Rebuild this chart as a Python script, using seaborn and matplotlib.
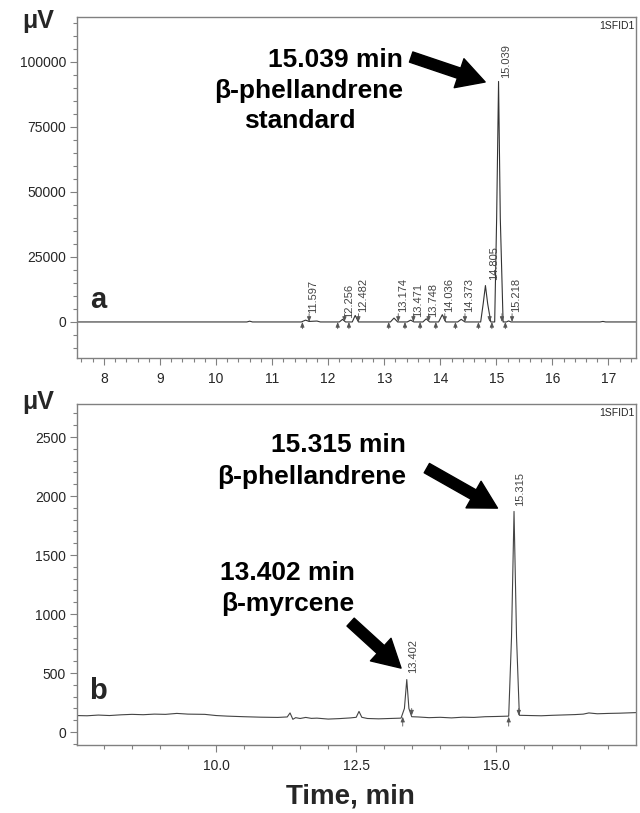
import matplotlib
matplotlib.use("Agg")
import matplotlib.pyplot as plt
from matplotlib.ticker import MultipleLocator
import seaborn as sns
import pandas as pd

# panel a: trace of the beta-phellandrene standard (time min, signal uV)
trace_a_t = [7.5, 10.55, 10.6, 10.65, 11.52, 11.597, 11.66, 11.75, 11.8, 11.86,
             12.2, 12.256, 12.31, 12.43, 12.482, 12.54, 13.11, 13.174, 13.24,
             13.41, 13.471, 13.53, 13.69, 13.748, 13.81, 13.97, 14.036, 14.1,
             14.31, 14.373, 14.44, 14.72, 14.765, 14.805, 14.845, 14.9,
             14.97, 15.005, 15.039, 15.07, 15.12, 15.18, 15.218, 15.26,
             16.85, 16.9, 16.95, 17.5]
trace_a_y = [0, 0, 300, 0, 0, 700, 200, 300, 350, 0,
             0, 1000, 0, 0, 2500, 0, 0, 1500, 0,
             0, 700, 0, 0, 1200, 0, 0, 2800, 0,
             0, 1000, 0, 0, 7000, 14000, 7000, 0,
             0, 40000, 92500, 40000, 0, 0, 400, 0,
             0, 200, 0, 0]

# panel a: peak labels (label x, label bottom) and integration starts
labels_a = ["11.597", "12.256", "12.482", "13.174", "13.471", "13.748",
            "14.036", "14.373", "14.805", "15.039", "15.218"]
label_a_x = [11.74, 12.37, 12.62, 13.33, 13.60, 13.87, 14.16, 14.52, 14.96, 15.18, 15.36]
label_a_y = [3300, 1600, 4000, 4000, 1800, 1800, 4000, 4000, 16000, 94000, 4000]
starts_a = [11.54, 12.17, 12.37, 13.08, 13.37, 13.64, 13.92, 14.27, 14.68, 14.92, 15.16]

# panel b: sample trace
trace_b_t = [7.5, 7.7, 7.9, 8.1, 8.3, 8.5, 8.7, 8.9, 9.1, 9.3, 9.5, 9.8, 10.0, 10.2,
             10.5, 10.8, 11.1, 11.27, 11.32, 11.37, 11.42, 11.5, 11.6, 11.7, 11.8,
             12.0, 12.2, 12.4, 12.5, 12.55, 12.6, 12.7, 12.9, 13.1, 13.3, 13.36,
             13.402, 13.44, 13.49, 13.6, 13.8, 14.0, 14.2, 14.4, 14.6, 14.8, 15.0,
             15.22, 15.27, 15.315, 15.36, 15.41, 15.6, 15.8, 16.0, 16.2, 16.4,
             16.55, 16.65, 16.8, 17.0, 17.2, 17.5]
trace_b_y = [140, 138, 144, 140, 146, 150, 147, 152, 150, 158, 152, 150, 140, 135,
             130, 126, 124, 128, 162, 108, 122, 115, 124, 116, 118,
             110, 114, 120, 125, 175, 125, 115, 112, 115, 118, 200,
             445, 200, 130, 128, 122, 125, 120, 126, 124, 130, 132,
             135, 800, 1870, 800, 142, 140, 138, 142, 145, 148,
             152, 162, 155, 158, 160, 165]

labels_b = ["13.402", "15.315"]
label_b_x = [13.51, 15.42]
label_b_y = [500, 1920]
starts_b = [13.33, 15.22]
ends_b = [13.49, 15.40]

sns.set_style("ticks")
plt.rcParams["font.family"] = ["Liberation Sans", "DejaVu Sans"]

fig = plt.figure(figsize=(6.4, 8.13), dpi=100)
ax_a = fig.add_axes([0.1203, 0.5597, 0.8734, 0.4194])
ax_b = fig.add_axes([0.1203, 0.0836, 0.8734, 0.4194])

line_col = "#333333"
spine_col = "#808080"

sns.lineplot(x=trace_a_t, y=trace_a_y, ax=ax_a, color=line_col, lw=0.8, estimator=None, sort=False)
sns.lineplot(x=trace_b_t, y=trace_b_y, ax=ax_b, color="#444444", lw=0.8, estimator=None, sort=False)

ax_a.set_xlim(7.52, 17.49)
ax_a.set_ylim(-13850, 117300)
ax_b.set_xlim(7.52, 17.49)
ax_b.set_ylim(-110, 2780)

ax_a.xaxis.set_major_locator(MultipleLocator(1))
ax_a.xaxis.set_minor_locator(MultipleLocator(0.2))
ax_a.yaxis.set_major_locator(MultipleLocator(25000))
ax_a.yaxis.set_minor_locator(MultipleLocator(5000))
ax_b.xaxis.set_major_locator(MultipleLocator(2.5))
ax_b.xaxis.set_minor_locator(MultipleLocator(0.5))
ax_b.yaxis.set_major_locator(MultipleLocator(500))
ax_b.yaxis.set_minor_locator(MultipleLocator(100))
ax_b.xaxis.set_major_formatter(matplotlib.ticker.FormatStrFormatter("%.1f"))

for ax in (ax_a, ax_b):
    for s in ax.spines.values():
        s.set_visible(True)
        s.set_color(spine_col)
        s.set_linewidth(1.0)
    ax.tick_params(which="major", length=5, width=0.8, color=spine_col, labelsize=10, pad=3)
    ax.tick_params(which="minor", length=3, width=0.8, color=spine_col)
    ax.tick_params(axis="x", pad=5)
    ax.set_xlabel("")
    ax.set_ylabel("")
    ax.text(0.997, 0.988, "1SFID1", transform=ax.transAxes, ha="right", va="top", fontsize=7.5)

# peak labels and integration marks
mark_kw = dict(arrowstyle="-|>,head_length=0.3,head_width=0.12", lw=0.6, color="#555555",
               shrinkA=0, shrinkB=0)
for lab, lx, ly in zip(labels_a, label_a_x, label_a_y):
    ax_a.text(lx, ly, lab, rotation=90, ha="center", va="bottom", fontsize=8, color="#444444")
    ax_a.annotate("", xy=(lx - 0.08, 0), xytext=(lx - 0.08, 3200), arrowprops=mark_kw)
for st in starts_a:
    ax_a.annotate("", xy=(st, 0), xytext=(st, -2600), arrowprops=mark_kw)

for lab, lx, ly in zip(labels_b, label_b_x, label_b_y):
    ax_b.text(lx, ly, lab, rotation=90, ha="center", va="bottom", fontsize=8, color="#444444")
for st in starts_b:
    ax_b.annotate("", xy=(st, 130), xytext=(st, 50), arrowprops=mark_kw)
for en in ends_b:
    ax_b.annotate("", xy=(en, 140), xytext=(en, 200), arrowprops=mark_kw)

big = dict(fontsize=19, fontweight="bold", color="black")
arrow_kw = dict(arrowstyle="simple,head_length=0.9,head_width=1.0,tail_width=0.35",
                fc="black", ec="black", shrinkA=0, shrinkB=0, mutation_scale=22)

ax_a.text(13.33, 98000, "15.039 min", ha="right", va="baseline", **big)
ax_a.text(13.33, 86150, "β-phellandrene", ha="right", va="baseline", **big)
ax_a.text(11.5, 74600, "standard", ha="center", va="baseline", **big)
ax_a.annotate("", xy=(14.80, 92300), xytext=(13.48, 101900), arrowprops=arrow_kw)

ax_b.text(13.39, 2373, "15.315 min", ha="right", va="baseline", **big)
ax_b.text(13.39, 2100, "β-phellandrene", ha="right", va="baseline", **big)
ax_b.annotate("", xy=(15.02, 1898), xytext=(13.76, 2237), arrowprops=arrow_kw)

ax_b.text(11.27, 1288, "13.402 min", ha="center", va="baseline", **big)
ax_b.text(11.27, 1025, "β-myrcene", ha="center", va="baseline", **big)
ax_b.annotate("", xy=(13.30, 542), xytext=(12.40, 932), arrowprops=arrow_kw)

ax_a.text(0.0376, 0.170, "a", transform=ax_a.transAxes, ha="center", va="center", fontsize=21, fontweight="bold")
ax_b.text(0.0376, 0.158, "b", transform=ax_b.transAxes, ha="center", va="center", fontsize=21, fontweight="bold")

fig.text(0.059, 0.974, "μV", ha="center", va="center", fontsize=18, fontweight="bold")
fig.text(0.059, 0.5055, "μV", ha="center", va="center", fontsize=18, fontweight="bold")
fig.text(0.547, 0.0197, "Time, min", ha="center", va="center", fontsize=20, fontweight="bold")

fig.savefig("out.png", dpi=100)
